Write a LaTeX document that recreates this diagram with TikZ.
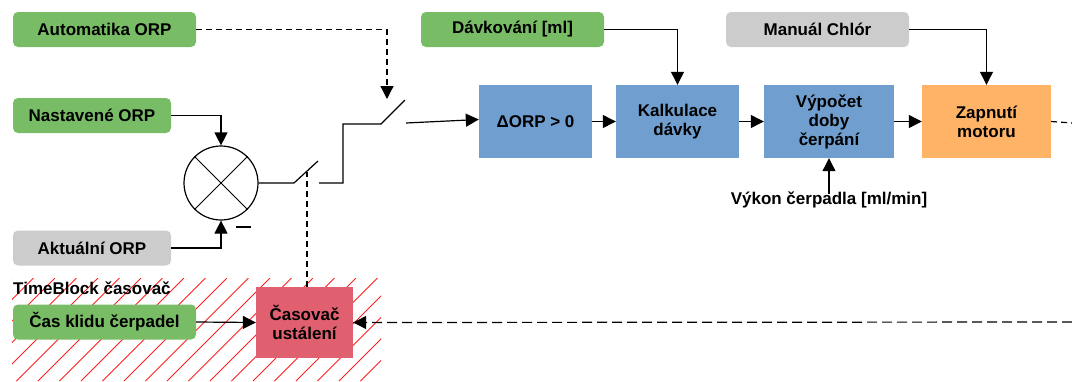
\documentclass[tikz,border=0pt]{standalone}
\usepackage{fontspec}
\setmainfont{Liberation Sans}
\usetikzlibrary{arrows.meta}
\definecolor{gboxfill}{HTML}{78BC66}
\definecolor{grayfill}{HTML}{CCCCCC}
\definecolor{bluefill}{HTML}{709ECF}
\definecolor{orangefill}{HTML}{FFB366}
\definecolor{pinkfill}{HTML}{E06070}
\definecolor{hatchred}{HTML}{FF2020}
\tikzset{
  txt/.style={font=\bfseries\fontsize{17}{19}\selectfont, align=center, text=black},
  inbox/.style={txt, rounded corners=5pt, inner sep=0pt, minimum height=35pt},
  greenbox/.style={inbox, fill=gboxfill},
  graybox/.style={inbox, fill=grayfill},
  block/.style={txt, inner sep=0pt, minimum height=73pt},
  blueblock/.style={block, fill=bluefill},
  orangeblock/.style={block, fill=orangefill},
  timerblock/.style={block, fill=pinkfill, minimum height=71pt, minimum width=97pt},
  wire/.style={line width=1.2pt, draw=black},
  arr/.style={wire, -{Triangle[length=13pt,width=13pt]}},
  dashA/.style={dash pattern=on 6pt off 4pt},
  dashB/.style={dash pattern=on 10pt off 5pt},
  hatchline/.style={draw=hatchred, line width=0.8pt}
}
\begin{document}
\begin{tikzpicture}[x=1pt,y=-1pt]
\useasboundingbox (0,0) rectangle (1072,381);
% hatched TimeBlock area
\begin{scope}
  \clip (12,278) rectangle (381,381);
  \foreach \i in {0,...,23} \draw[hatchline] ({-91+\i*21.5},381) -- ++(103,-103);
\end{scope}
\node[txt, anchor=base west, inner sep=0pt] (tbl) at (13,294) {TimeBlock časovač};

% input boxes
\node[greenbox, minimum width=183pt] (auto) at (104.5,29.5) {Automatika ORP};
\node[greenbox, minimum width=158pt] (nast) at (92,115.5) {Nastavené ORP};
\node[graybox, minimum width=158pt] (akt) at (92,248) {Aktuální ORP};
\node[greenbox, minimum width=183pt] (klid) at (104.5,322) {Čas klidu čerpadel};
\node[greenbox, minimum width=183pt] (davk) at (512.5,29.5) {Dávkování [ml]};
\node[graybox, minimum width=183pt] (man) at (817.5,29.5) {Manuál Chlór};

% summation
\node[circle, draw=black, line width=1.2pt, minimum size=74pt, inner sep=0pt] (sum) at (221,183) {};
\draw[line width=1pt] (sum.north west) -- (sum.south east);
\draw[line width=1pt] (sum.north east) -- (sum.south west);
\node[inner sep=0pt] (minus) at (243.5,227) {\rule{15pt}{1.3pt}};

% blocks
\node[blueblock, minimum width=113pt] (dorp) at (535.5,121.5) {ΔORP > 0};
\node[blueblock, minimum width=123pt] (kalk) at (677.5,121.5) {Kalkulace\\dávky};
\node[blueblock, minimum width=130pt] (vyp) at (829,121.5) {Výpočet\\doby\\čerpání};
\node[orangeblock, minimum width=129pt] (zap) at (986.5,121.5) {Zapnutí\\motoru};
\node[timerblock] (tmr) at (304.5,322.5) {Časovač\\ustálení};
\node[txt, inner sep=0pt] (vykon) at (829,200) {Výkon čerpadla [ml/min]};

% switch coordinates
\coordinate (s1a) at (294,183);
\coordinate (s1b) at (318,161);
\coordinate (s1c) at (319,183);
\coordinate (s1d) at (343,183);
\coordinate (s1e) at (343,124);
\coordinate (s2a) at (381,124);
\coordinate (s2b) at (405,100);
\coordinate (s2c) at (406,123);
\coordinate (s1m) at (307,172);
\coordinate (autotip) at (387,99);
\coordinate (rightA) at (1072,123);
\coordinate (rightB) at (1072,322);

% connectors
\draw[arr] (nast.east) -| (sum.north);
\draw[arr] (akt.east) -| (sum.south);
\draw[wire] (sum.east) -- (s1a) -- (s1b);
\draw[wire] (s1c) -- (s1d) -- (s1e) -- (s2a) -- (s2b);
\draw[arr] (s2c) -- ([yshift=2pt]dorp.west);
\draw[arr, dashA] (auto.east) -| (autotip);
\draw[wire, dashA] (s1m |- tmr.north) -- (s1m);
\draw[arr] (dorp.east) -- (kalk.west);
\draw[arr] (kalk.east) -- (vyp.west);
\draw[arr] (vyp.east) -- (zap.west);
\draw[arr] (davk.east) -| (kalk.north);
\draw[arr] (man.east) -| (zap.north);
\draw[arr] ([yshift=-2pt]vykon.north) -- (vyp.south);
\draw[wire, dashA] (zap.east) -- (rightA);
\draw[arr, dashB] (rightB) -- (tmr.east);
\draw[arr] (klid.east) -- (tmr.west);
\end{tikzpicture}
\end{document}
